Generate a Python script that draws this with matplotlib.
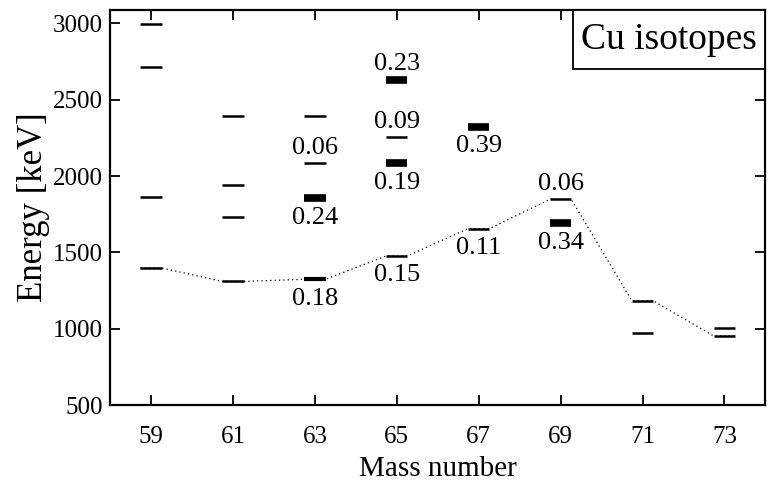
import numpy as np
import matplotlib
matplotlib.use("Agg")
import matplotlib.pyplot as plt
from matplotlib.patches import Rectangle

plt.rcParams['font.family'] = ['Liberation Serif', 'DejaVu Serif']

# level energies [keV] per mass number, thick = strong level
lvl_mass = [59, 59, 59, 59,
            61, 61, 61, 61,
            63, 63, 63, 63,
            65, 65, 65, 65,
            67, 67,
            69, 69,
            71, 71,
            73, 73]
lvl_energy = [1398, 1860, 2714, 2995,
              1310, 1732, 1942, 2393,
              1324, 1855, 2084, 2393,
              1477, 2084, 2258, 2633,
              1656, 2321,
              1848, 1691,
              1183, 971,
              1002, 952]
lvl_thick = [0, 0, 0, 0,
             0, 0, 0, 0,
             1, 2, 0, 0,
             0, 2, 0, 2,
             0, 2,
             0, 2,
             0, 0,
             0, 0]

# strength labels: mass, energy of level, text, above/below
lab_mass = [63, 63, 63, 65, 65, 65, 65, 67, 67, 69, 69]
lab_energy = [2084, 1855, 1324, 2633, 2258, 2084, 1477, 2321, 1656, 1848, 1691]
lab_text = ["0.06", "0.24", "0.18", "0.23", "0.09", "0.19", "0.15",
            "0.39", "0.11", "0.06", "0.34"]
lab_pos = ["above", "below", "below", "above", "above", "below", "below",
           "below", "below", "above", "below"]

# dotted line through the lowest 5/2- like levels
path_mass = [59, 61, 63, 65, 67, 69, 71, 73]
path_energy = [1398, 1310, 1324, 1477, 1656, 1848, 1183, 952]

xticks = [59, 61, 63, 65, 67, 69, 71, 73]
yticks = [500, 1000, 1500, 2000, 2500, 3000]

hw = 0.26  # half width of a level line

fig = plt.figure(figsize=(7.7, 4.88), dpi=100)
ax = fig.add_axes([0.143, 0.170, 0.851, 0.810])

px, py = [], []
for m, e in zip(path_mass, path_energy):
    px += [m - hw, m + hw]
    py += [e, e]
ax.plot(px, py, color='black', lw=0.9, ls=(0, (1, 2.5)))

widths = {0: 1.8, 1: 3.0, 2: 5.5}
for m, e, t in zip(lvl_mass, lvl_energy, lvl_thick):
    ax.plot([m - hw, m + hw], [e, e], color='black', lw=widths[t],
            solid_capstyle='butt')

for m, e, s, p in zip(lab_mass, lab_energy, lab_text, lab_pos):
    if p == "above":
        ax.annotate(s, (m, e), xytext=(0, 3), textcoords='offset points',
                    ha='center', va='bottom', fontsize=19)
    else:
        ax.annotate(s, (m, e), xytext=(0, -6), textcoords='offset points',
                    ha='center', va='top', fontsize=19)

# label box in the upper right corner
ax.add_patch(Rectangle((0.707, 0.851), 0.293, 0.149, transform=ax.transAxes,
                       fc='white', ec='black', lw=1.3, zorder=3))
ax.text(0.8535, 0.925, "Cu isotopes", transform=ax.transAxes, ha='center',
        va='center', fontsize=27, zorder=4)

ax.set_xlim(58, 74)
ax.set_ylim(500, 3090)
ax.set_xticks(xticks)
ax.set_yticks(yticks)
ax.tick_params(direction='in', length=7, width=1.3, top=True, right=True,
               labelsize=18)
ax.tick_params(axis='x', pad=15)
ax.tick_params(axis='y', pad=5)
for sp in ax.spines.values():
    sp.set_linewidth(1.6)

ax.set_xlabel("Mass number", fontsize=21, labelpad=6)
ax.set_ylabel("Energy [keV]", fontsize=25, labelpad=2)

fig.savefig("out.png", dpi=100)
